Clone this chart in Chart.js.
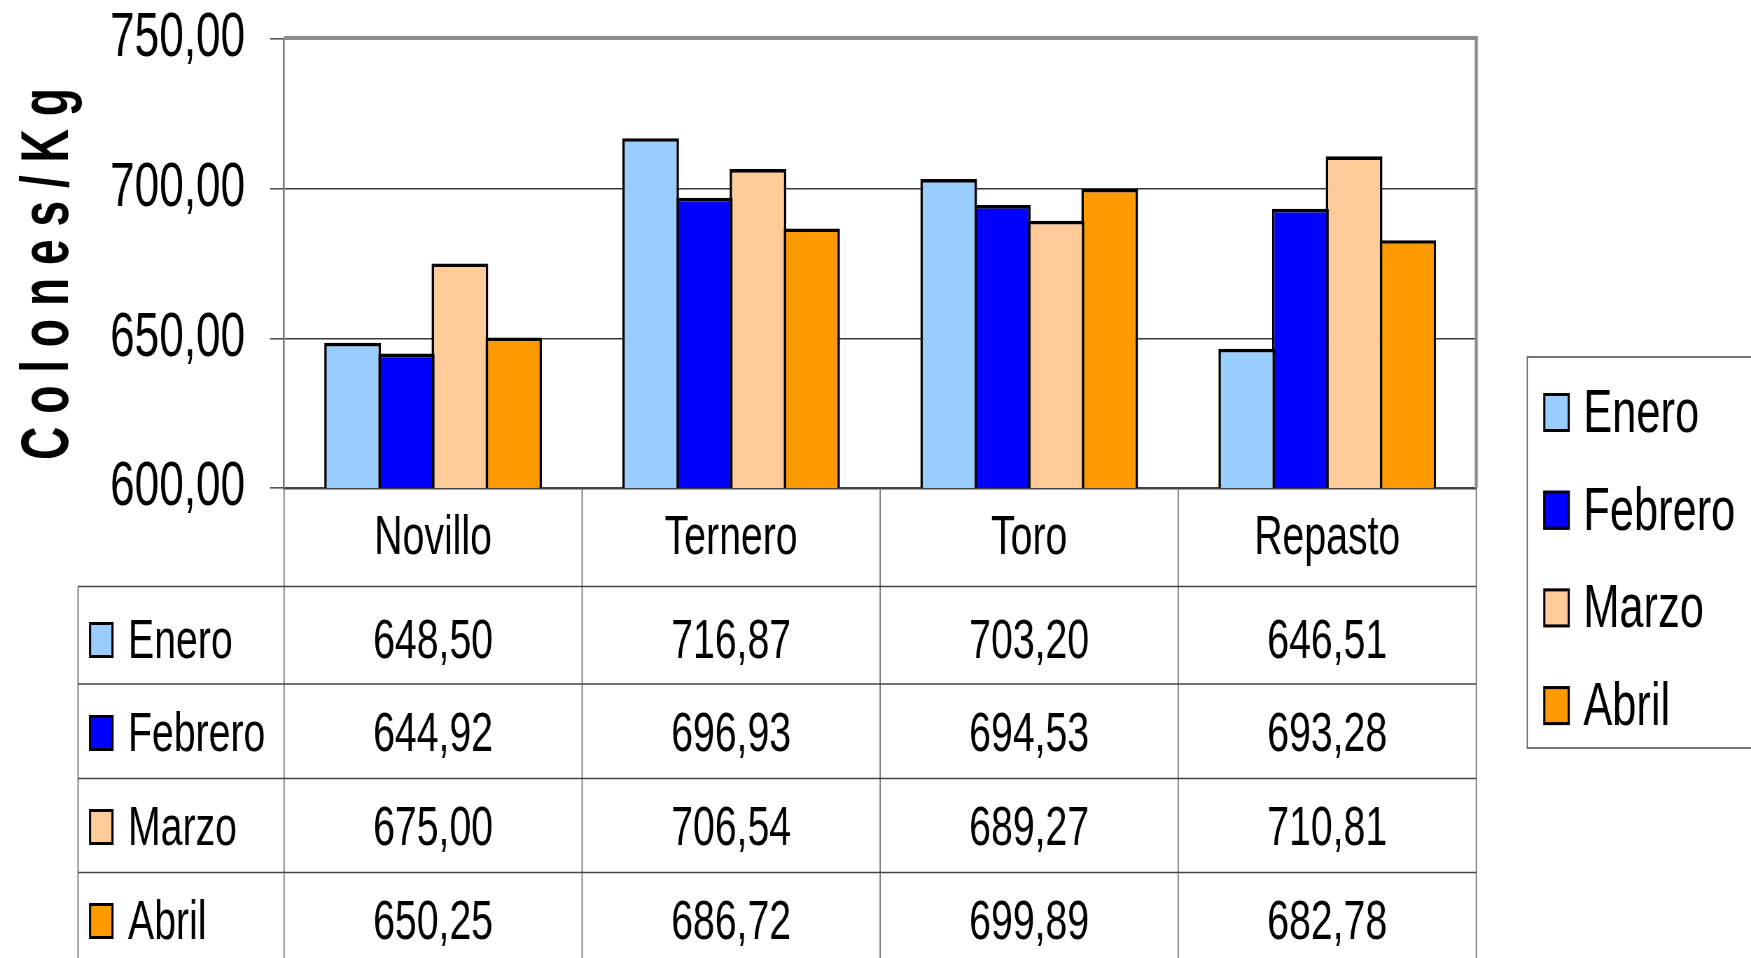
<!DOCTYPE html>
<html lang="es">
<head>
<meta charset="utf-8">
<title>Precio por kilogramo según categoría</title>
<script src="https://cdn.jsdelivr.net/npm/chart.js@4.4.1/dist/chart.umd.min.js"></script>
<style>
  html, body { margin: 0; padding: 0; background: #fff; overflow: hidden; }
  #chart { display: block; width: 1751px !important; height: 958px !important; }
</style>
</head>
<body>
<canvas id="chart"></canvas>
<script>
// Precio por kilogramo (colones) de cada categoría de ganado, enero a abril
const categories = ['Novillo', 'Ternero', 'Toro', 'Repasto'];
const months     = ['Enero', 'Febrero', 'Marzo', 'Abril'];
const enero      = [648.50, 716.87, 703.20, 646.51];
const febrero    = [644.92, 696.93, 694.53, 693.28];
const marzo      = [675.00, 706.54, 689.27, 710.81];
const abril      = [650.25, 686.72, 699.89, 682.78];
const yTicks     = [600, 650, 700, 750];
const yTitle     = 'C o l o n e s / K g';
const monthColors = ['#99CCFF', '#0000FF', '#FFCC99', '#FF9900'];

const series = [enero, febrero, marzo, abril];

function fontAvailable(name) {
  const c = document.createElement('canvas').getContext('2d');
  const probe = 'Febrero 750,00 Novillo';
  c.font = '100px monospace';
  const a = c.measureText(probe).width;
  c.font = `100px "${name}", monospace`;
  return Math.abs(c.measureText(probe).width - a) > 0.5;
}

const NARROW = fontAvailable('Liberation Sans Narrow');
const FAMILY = NARROW
  ? '"Liberation Sans Narrow", "Arial Narrow", sans-serif'
  : '"Liberation Sans", Arial, sans-serif';

// The canvas is laid out wider than it is shown, so the lettering comes out condensed.
const SQUEEZE = NARROW ? 0.85 : 0.70;
const X = v => v / SQUEEZE;          // display px -> canvas px (horizontal only)
const W = 1751, H = 958;

const canvas = document.getElementById('chart');
canvas.width = Math.round(W / SQUEEZE);
canvas.height = H;
const CW = canvas.width;

const fmt = v => v.toFixed(2).replace('.', ',');

// Layout, in display pixels
const PLOT = { left: 284, right: 1476, top: 39, bottom: 488 };
const ROW_LINES = [586.5, 684, 778.5, 872.5];
const ROW_BASELINES = [658, 751, 845, 939];
const TABLE_LEFT = 78;
const LEGEND = { left: 1527, top: 357, bottom: 748, first: 432, step: 97.7 };
const BAR_BORDER = 3.6;

function swatch(ctx, x, y, w, h, color) {
  ctx.fillStyle = color;
  ctx.fillRect(x, y, w, h);
  ctx.lineWidth = 3;
  ctx.strokeStyle = '#000';
  ctx.strokeRect(x + 1.5, y + 1.5, w - 3, h - 3);
}

// Frame on the top and right of the plot area
const framePlugin = {
  id: 'marco',
  afterDraw(chart) {
    const { ctx, chartArea: a } = chart;
    ctx.save();
    ctx.strokeStyle = '#8c8c8c';
    ctx.lineWidth = 4;
    ctx.beginPath();
    ctx.moveTo(a.left, a.top - 1);
    ctx.lineTo(a.right + X(1.5), a.top - 1);
    ctx.stroke();
    ctx.lineWidth = X(3);
    ctx.beginPath();
    ctx.moveTo(a.right, a.top - 3);
    ctx.lineTo(a.right, a.bottom);
    ctx.stroke();
    ctx.restore();
  }
};

// Rotated axis title
const titlePlugin = {
  id: 'tituloEje',
  afterDraw(chart) {
    const { ctx } = chart;
    ctx.save();
    ctx.font = `bold 68px ${FAMILY}`;
    const w = ctx.measureText(yTitle).width;
    const along = 372 / w;
    ctx.translate(X(68), 274);
    ctx.rotate(-Math.PI / 2);
    ctx.scale(along, 1 / SQUEEZE);
    ctx.fillStyle = '#000';
    ctx.textAlign = 'center';
    ctx.textBaseline = 'alphabetic';
    ctx.fillText(yTitle, 0, 0);
    ctx.restore();
  }
};

// Data table under the plot
const tablePlugin = {
  id: 'tablaDatos',
  afterDraw(chart) {
    const { ctx, scales: { x } } = chart;
    const n = categories.length;
    const cw = (x.right - x.left) / n;
    ctx.save();
    ctx.lineWidth = 1.6;
    ctx.strokeStyle = '#666';
    ctx.beginPath();
    for (let i = 0; i <= n; i++) {
      const px = x.left + i * cw;
      ctx.moveTo(px, PLOT.bottom);
      ctx.lineTo(px, H);
    }
    ctx.moveTo(X(TABLE_LEFT), ROW_LINES[0]);
    ctx.lineTo(X(TABLE_LEFT), H);
    ctx.stroke();

    ctx.strokeStyle = '#444';
    ctx.beginPath();
    ROW_LINES.forEach(y => { ctx.moveTo(X(TABLE_LEFT), y); ctx.lineTo(x.right, y); });
    ctx.stroke();

    chart.data.datasets.forEach((ds, r) => {
      const base = ROW_BASELINES[r];
      swatch(ctx, X(89), base - 36, X(113.5) - X(89), 36, ds.backgroundColor);
      ctx.fillStyle = '#000';
      ctx.font = `56px ${FAMILY}`;
      ctx.textBaseline = 'alphabetic';
      ctx.textAlign = 'left';
      ctx.fillText(ds.label, X(128), base);
      ctx.textAlign = 'center';
      ds.data.forEach((v, c) => ctx.fillText(fmt(v), x.getPixelForValue(c), base));
    });
    ctx.restore();
  }
};

// Legend box on the right
const legendPlugin = {
  id: 'leyenda',
  afterDraw(chart) {
    const { ctx } = chart;
    ctx.save();
    ctx.strokeStyle = '#555';
    ctx.lineWidth = 1.6;
    ctx.strokeRect(X(LEGEND.left), LEGEND.top, CW + 20 - X(LEGEND.left), LEGEND.bottom - LEGEND.top);
    chart.data.datasets.forEach((ds, i) => {
      const base = LEGEND.first + i * LEGEND.step;
      swatch(ctx, X(1543), base - 39, X(1569.5) - X(1543), 39, ds.backgroundColor);
      ctx.fillStyle = '#000';
      ctx.font = `62px ${FAMILY}`;
      ctx.textAlign = 'left';
      ctx.textBaseline = 'alphabetic';
      ctx.fillText(ds.label, X(1583), base);
    });
    ctx.restore();
  }
};

new Chart(canvas, {
  type: 'bar',
  data: {
    labels: categories,
    datasets: months.map((m, i) => ({
      label: m,
      data: series[i],
      backgroundColor: monthColors[i],
      borderColor: '#000',
      borderWidth: BAR_BORDER,
      categoryPercentage: 0.72,
      barPercentage: 1.057
    }))
  },
  options: {
    responsive: false,
    animation: false,
    events: [],
    layout: { padding: { left: 0, top: PLOT.top, right: CW - X(PLOT.right), bottom: 0 } },
    plugins: { legend: { display: false }, tooltip: { enabled: false } },
    scales: {
      x: {
        offset: true,
        grid: { display: false, drawTicks: false, tickLength: 0 },
        border: { display: true, color: '#444', width: 2.5 },
        ticks: {
          autoSkip: false, maxRotation: 0, minRotation: 0,
          padding: 17, color: '#000',
          font: { family: FAMILY, size: 56 }
        },
        afterFit(s) { s.height = H - PLOT.bottom; }
      },
      y: {
        min: yTicks[0],
        max: yTicks[yTicks.length - 1],
        afterBuildTicks(s) { s.ticks = yTicks.map(v => ({ value: v })); },
        grid: { color: '#3a3a3a', lineWidth: 1.6, tickLength: X(14), tickColor: '#555' },
        border: { display: true, color: '#777', width: X(1.8) },
        ticks: {
          padding: X(25), color: '#000',
          font: { family: FAMILY, size: 63 },
          callback: v => fmt(v)
        },
        afterFit(s) {
          s.width = X(PLOT.left);
          s.paddingTop = 0;
          s.paddingBottom = 0;
        }
      }
    }
  },
  plugins: [tablePlugin, legendPlugin, framePlugin, titlePlugin]
});
</script>
</body>
</html>
